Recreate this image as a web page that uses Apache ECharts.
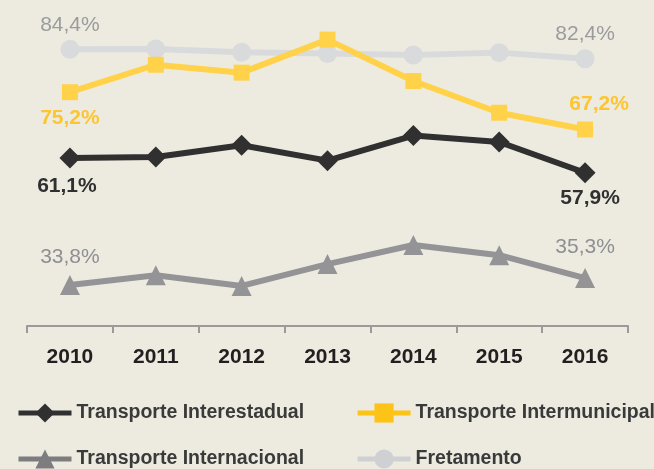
<!DOCTYPE html>
<html>
<head>
<meta charset="utf-8">
<script src="https://cdn.jsdelivr.net/npm/echarts@6/dist/echarts.min.js"></script>
<style>
  html, body { margin: 0; padding: 0; background: #edebe0; }
  #chart { width: 654px; height: 469px; }
</style>
</head>
<body>
<div id="chart"></div>
<script>
// dados
var anos = ['2010', '2011', '2012', '2013', '2014', '2015', '2016'];
var interestadual = [61.1, 61.3, 63.8, 60.5, 65.9, 64.5, 57.9];
var intermunicipal = [75.2, 81.1, 79.4, 86.5, 77.6, 70.8, 67.2];
var internacional = [33.8, 35.9, 33.6, 38.3, 42.4, 40.2, 35.3];
var fretamento = [84.4, 84.5, 83.8, 83.5, 83.2, 83.7, 82.4];

var FONT = '"Liberation Sans", Arial, sans-serif';

function fmt(v) {
  return v.toFixed(1).replace('.', ',') + '%';
}

// só o primeiro e o último ponto têm rótulo
function pontos(valores, rotIni, rotFim) {
  return valores.map(function (v, i) {
    var item = { value: v };
    if (i === 0) item.label = Object.assign({ show: true }, rotIni);
    if (i === valores.length - 1) item.label = Object.assign({ show: true }, rotFim);
    return item;
  });
}

function rotulo(cor, peso) {
  return {
    show: false,
    formatter: function (p) { return fmt(p.value); },
    color: cor,
    fontFamily: FONT,
    fontSize: 21,
    fontWeight: peso
  };
}

var legendaTexto = { color: '#3a3a3a', fontFamily: FONT, fontSize: 19.5, fontWeight: 'bold' };

function legenda(top, itens) {
  return {
    left: 16,
    top: top,
    width: 700,
    padding: 0,
    itemWidth: 53,
    itemHeight: 24,
    itemGap: 51,
    textStyle: legendaTexto,
    lineStyle: { width: 5 },
    data: itens
  };
}

var chart = echarts.init(document.getElementById('chart'));
chart.setOption({
  backgroundColor: '#edebe0',
  animation: false,
  grid: { left: 27, right: 26, top: 0, bottom: 143 },
  xAxis: {
    type: 'category',
    data: anos,
    boundaryGap: true,
    axisLine: { lineStyle: { color: '#9a9a9a', width: 2 } },
    axisTick: { show: true, length: 7, lineStyle: { color: '#9a9a9a', width: 2 } },
    axisLabel: {
      color: '#231f20',
      fontFamily: FONT,
      fontSize: 21,
      fontWeight: 'bold',
      margin: 21
    }
  },
  yAxis: {
    type: 'value',
    min: 25,
    max: 95,
    show: false,
    splitLine: { show: false }
  },
  legend: [
    legenda(403, [
      { name: 'Transporte Interestadual', itemStyle: { color: '#303030' }, lineStyle: { color: '#303030', width: 5 } },
      { name: 'Transporte Intermunicipal', itemStyle: { color: '#fdc317' }, lineStyle: { color: '#fdc317', width: 5 } }
    ]),
    legenda(449, [
      { name: 'Transporte Internacional', itemStyle: { color: '#7d7d80' }, lineStyle: { color: '#7d7d80', width: 5 } },
      { name: 'Fretamento', itemStyle: { color: '#cfd0d3' }, lineStyle: { color: '#cfd0d3', width: 5 } }
    ])
  ],
  series: [{
    name: 'Fretamento',
    type: 'line',
    symbol: 'circle',
    symbolSize: 19,
    itemStyle: { color: '#d9dadc' },
    lineStyle: { color: '#d9dadc', width: 6 },
    label: rotulo('#9b9b9d', 'normal'),
    data: pontos(fretamento,
      { position: 'top', distance: 4 },
      { position: 'top', distance: 4 })
  }, {
    name: 'Transporte Intermunicipal',
    type: 'line',
    symbol: 'rect',
    symbolSize: 16,
    itemStyle: { color: '#ffd24a' },
    lineStyle: { color: '#ffd24a', width: 6 },
    label: rotulo('#fdc52f', 'bold'),
    data: pontos(intermunicipal,
      { position: 'bottom', distance: 7 },
      { position: 'top', distance: 7, offset: [14, 0] })
  }, {
    name: 'Transporte Interestadual',
    type: 'line',
    symbol: 'diamond',
    symbolSize: 21,
    itemStyle: { color: '#303030' },
    lineStyle: { color: '#303030', width: 6 },
    label: rotulo('#303030', 'bold'),
    data: pontos(interestadual,
      { position: 'bottom', distance: 7, offset: [-3, 0] },
      { position: 'bottom', distance: 4, offset: [5, 0] })
  }, {
    name: 'Transporte Internacional',
    type: 'line',
    symbol: 'triangle',
    symbolSize: 20,
    itemStyle: { color: '#949497' },
    lineStyle: { color: '#949497', width: 6 },
    label: rotulo('#8f8f92', 'normal'),
    data: pontos(internacional,
      { position: 'top', distance: 7 },
      { position: 'top', distance: 10 })
  }]
});
</script>
</body>
</html>
